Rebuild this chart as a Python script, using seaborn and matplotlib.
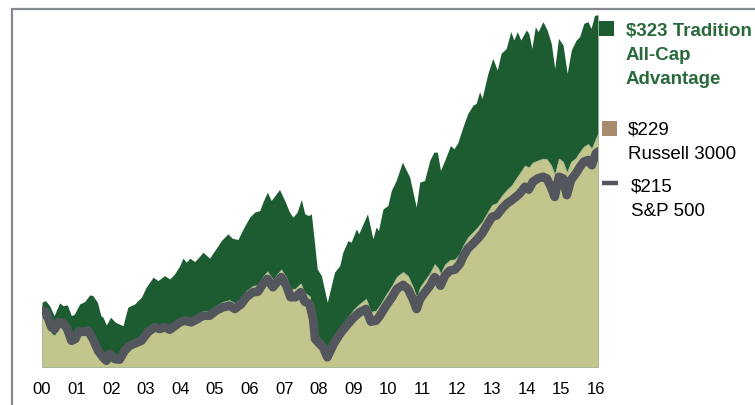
import numpy as np
import pandas as pd
import matplotlib
matplotlib.use("Agg")
import matplotlib.pyplot as plt
from matplotlib.patches import Rectangle
import seaborn as sns

sns.set_theme(style="white")
plt.rcParams["font.family"] = ["Liberation Sans", "DejaVu Sans"]

# growth of $100 (x = years since 2000)
trad_year = [0.00, 0.10, 0.22, 0.35, 0.51, 0.61, 0.73, 0.85, 0.94, 1.09, 1.23, 1.38, 1.47, 1.60,
             1.70, 1.76, 1.86, 1.98, 2.12, 2.34, 2.48, 2.68, 2.77, 2.87, 3.01, 3.21, 3.35, 3.54,
             3.69, 3.83, 3.98, 4.07, 4.17, 4.27, 4.41, 4.53, 4.65, 4.84, 4.99, 5.18, 5.37, 5.49,
             5.66, 5.81, 6.00, 6.14, 6.29, 6.38, 6.51, 6.62, 6.77, 6.86, 7.01, 7.15, 7.25, 7.37,
             7.49, 7.59, 7.70, 7.78, 7.88, 7.95, 8.07, 8.24, 8.45, 8.60, 8.69, 8.84, 8.93, 9.08,
             9.15, 9.40, 9.56, 9.65, 9.72, 9.85, 9.99, 10.09, 10.23, 10.41, 10.62, 10.81, 10.91,
             11.05, 11.20, 11.32, 11.42, 11.51, 11.63, 11.80, 11.90, 12.01, 12.16, 12.30, 12.45,
             12.54, 12.64, 12.71, 12.88, 13.02, 13.15, 13.26, 13.41, 13.54, 13.63, 13.73, 13.83,
             13.99, 14.06, 14.15, 14.25, 14.33, 14.47, 14.59, 14.71, 14.81, 14.92, 15.05, 15.17,
             15.29, 15.43, 15.53, 15.65, 15.77, 15.86, 15.96, 16.06]
tradition = [96.1, 97.4, 93.4, 85.5, 95.6, 93.4, 94.0, 85.5, 86.9, 94.8, 96.6, 101.9, 101.3, 96.1,
             85.5, 84.3, 78.2, 84.3, 80.3, 77.6, 92.2, 94.8, 97.4, 100.1, 108.0, 115.9, 113.2, 117.1,
             114.5, 118.5, 125.0, 130.9, 127.7, 130.9, 128.2, 131.7, 135.6, 130.9, 136.9, 144.8, 150.1, 146.7,
             145.6, 154.0, 163.3, 167.2, 168.5, 175.1, 183.0, 176.4, 181.7, 185.1, 176.4, 167.2, 163.3, 167.2,
             177.2, 165.9, 164.5, 165.9, 140.8, 122.4, 117.1, 96.1, 119.8, 125.0, 135.6, 144.8, 143.5, 154.0,
             150.1, 165.9, 146.1, 155.4, 152.7, 169.8, 172.4, 184.3, 192.2, 206.7, 194.9, 171.2, 190.9,
             192.2, 208.0, 214.6, 214.6, 200.1, 208.0, 219.8, 217.2, 222.0, 234.6, 245.1, 251.7,
             253.0, 262.3, 257.0, 276.7, 288.6, 279.4, 292.5, 296.5, 309.7, 303.1, 309.7, 303.1,
             311.0, 308.3, 296.5, 313.6, 309.7, 317.6, 311.0, 300.4, 280.7, 304.4, 299.1, 276.7,
             295.2, 303.1, 305.7, 316.2, 317.6, 312.3, 322.5, 323.0]

idx_year = [0.00, 0.12, 0.27, 0.37, 0.48, 0.61, 0.73, 0.85, 0.96, 1.06, 1.23, 1.33, 1.47, 1.62,
            1.76, 1.86, 1.96, 2.10, 2.24, 2.39, 2.53, 2.72, 2.87, 3.06, 3.25, 3.40, 3.54, 3.69,
            3.83, 3.98, 4.12, 4.31, 4.46, 4.65, 4.84, 5.03, 5.23, 5.42, 5.57, 5.76, 5.90, 6.09,
            6.24, 6.38, 6.51, 6.67, 6.82, 6.91, 7.06, 7.18, 7.32, 7.47, 7.59, 7.73, 7.83, 7.89,
            8.02, 8.12, 8.24, 8.45, 8.64, 8.84, 9.01, 9.18, 9.36, 9.50, 9.65, 9.76, 9.94, 10.11,
            10.25, 10.43, 10.57, 10.71, 10.82, 10.92, 11.06, 11.21, 11.34, 11.44, 11.51, 11.64,
            11.78, 11.93, 12.07, 12.16, 12.30, 12.45, 12.59, 12.71, 12.88, 13.00, 13.14, 13.29,
            13.43, 13.57, 13.69, 13.80, 13.95, 14.06, 14.18, 14.32, 14.47, 14.58, 14.70, 14.81,
            14.93, 15.05, 15.16, 15.28, 15.42, 15.54, 15.65, 15.77, 15.88, 16.00, 16.06]
russell = [83.5, 82.2, 71.4, 70.0, 76.3, 75.8, 71.0, 62.8, 64.1, 69.9, 69.9, 70.7, 64.1, 55.9,
           50.7, 48.0, 53.3, 49.3, 49.8, 56.9, 60.8, 63.5, 65.5, 72.6, 77.5, 76.5, 78.4, 76.8,
           79.8, 83.3, 84.6, 83.6, 86.0, 89.2, 89.4, 93.5, 96.5, 97.8, 95.3, 99.5, 105.0, 109.0,
           109.8, 116.2, 120.5, 114.0, 119.3, 122.0, 115.5, 106.6, 106.8, 111.0, 103.4, 101.0, 88.5, 72.0,
           67.5, 64.6, 56.5, 69.0, 77.5, 84.5, 90.5, 95.0, 98.8, 88.5, 89.6, 93.8, 102.2, 109.3,
           116.3, 120.0, 116.8, 108.4, 99.8, 108.0, 113.5, 119.2, 126.2, 123.0, 118.6, 126.0,
           129.5, 130.0, 134.6, 140.5, 147.3, 151.5, 155.6, 159.6, 167.5, 173.0, 174.5, 180.5,
           185.0, 188.5, 193.5, 198.0, 204.0, 202.5, 206.5, 208.0, 209.5, 209.0, 204.5, 197.0,
           209.5, 207.0, 198.5, 207.0, 210.0, 215.0, 219.0, 221.0, 217.5, 225.5, 229.0]
sp500 = [89.5, 88.2, 76.4, 75.0, 80.3, 79.8, 75.0, 65.8, 67.1, 72.9, 72.9, 73.7, 67.1, 57.9,
         52.7, 50.0, 55.3, 51.3, 50.8, 57.9, 61.8, 64.0, 65.8, 72.4, 76.4, 75.0, 76.4, 74.5,
         77.2, 80.3, 81.6, 80.3, 82.4, 85.5, 85.5, 89.5, 92.2, 93.4, 90.8, 94.8, 100.1, 104.0,
         104.5, 110.6, 114.5, 108.0, 113.2, 115.9, 109.2, 100.1, 100.1, 104.0, 96.6, 94.8, 82.9, 67.1,
         63.2, 60.6, 52.7, 64.5, 72.4, 79.0, 84.3, 88.2, 90.8, 80.8, 81.6, 85.5, 93.4, 100.1,
         106.6, 109.8, 106.6, 98.7, 90.8, 98.7, 104.0, 109.2, 115.9, 113.2, 109.2, 117.1,
         121.1, 121.9, 126.4, 131.9, 138.5, 142.4, 146.4, 150.3, 158.2, 163.5, 164.8, 170.1,
         174.0, 176.7, 179.3, 181.9, 187.2, 185.1, 191.2, 193.8, 195.1, 193.8, 187.2, 179.3,
         195.1, 193.8, 180.7, 192.7, 197.7, 203.0, 207.0, 208.3, 204.3, 213.5, 215.0]

year_labels = ["00", "01", "02", "03", "04", "05", "06", "07", "08", "09",
               "10", "11", "12", "13", "14", "15", "16"]

GREEN = "#1c5c30"
KHAKI = "#c2c68c"
GREY = "#54565e"
TAN = "#a88a6c"

fig = plt.figure(figsize=(7.55, 4.06), dpi=100)
ax = fig.add_axes([42 / 755, 38 / 406, 556 / 755, 356 / 406])
base = 45

ax.fill_between(trad_year, tradition, base, color=GREEN, lw=0)
ax.fill_between(idx_year, russell, base, facecolor=KHAKI, edgecolor="#a9b89a", lw=0.6)
sp = pd.DataFrame({"year": idx_year, "value": sp500})
sns.lineplot(data=sp, x="year", y="value", ax=ax, color=GREY, lw=6.3,
             solid_capstyle="round", solid_joinstyle="round")

ax.set_xlim(0, 16.06)
ax.set_ylim(base, 326)
ax.set_xticks(range(len(year_labels)))
ax.set_xticklabels(year_labels, fontsize=12)
ax.set_yticks([])
ax.set_xlabel("")
ax.set_ylabel("")
ax.tick_params(axis="x", length=0, pad=10, colors="black")
for s in ax.spines.values():
    s.set_visible(False)

# outer frame
fig.patches.append(Rectangle((12 / 755, -0.2), 1.2, 0.2 + 396 / 406, transform=fig.transFigure,
                             fill=False, edgecolor="#878990", lw=1.6))

# legend on the right
def px(x, y):
    return x / 755, 1 - y / 406

fig.patches.append(Rectangle(px(599, 37), 15 / 755, 15 / 406, transform=fig.transFigure,
                             color=GREEN, lw=0))
for txt, yb in [("$323 Tradition", 36), ("All-Cap", 60), ("Advantage", 84)]:
    fig.text(*px(626, yb), txt, fontsize=13.5, fontweight="bold", color="#2b6a3b", va="baseline")

fig.patches.append(Rectangle(px(602, 137), 15 / 755, 15 / 406, transform=fig.transFigure,
                             color=TAN, lw=0))
fig.text(*px(628, 135), "$229", fontsize=13.5, color="black", va="baseline")
fig.text(*px(628, 159), "Russell 3000", fontsize=13.5, color="black", va="baseline")

fig.add_artist(plt.Line2D([602 / 755, 618 / 755], [1 - 184 / 406] * 2, color=GREY, lw=3.2,
                          solid_capstyle="butt", transform=fig.transFigure))
fig.text(*px(631, 192), "$215", fontsize=13.5, color="black", va="baseline")
fig.text(*px(631, 216), "S&P 500", fontsize=13.5, color="black", va="baseline")

fig.savefig("out.png", dpi=100)
